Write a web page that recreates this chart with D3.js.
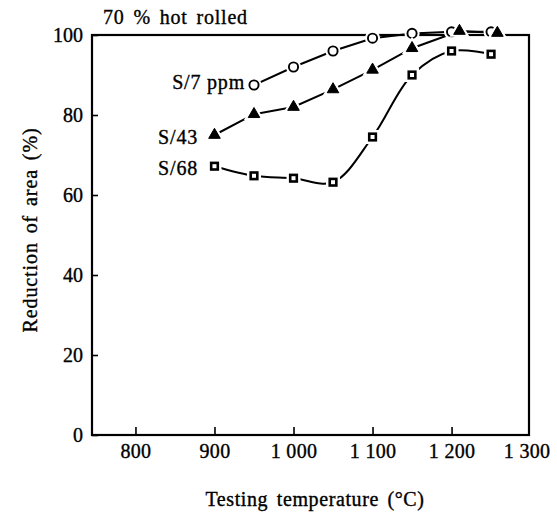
<!DOCTYPE html>
<html>
<head>
<meta charset="utf-8">
<script src="https://cdn.jsdelivr.net/npm/d3@7"></script>
<style>
  html, body { margin: 0; padding: 0; background: #fff; }
  svg { display: block; }
  text { font-family: "Liberation Serif", "DejaVu Serif", serif; fill: #000; stroke: #000; stroke-width: 0.35px; }
</style>
</head>
<body>
<svg id="chart" width="557" height="515"></svg>
<script>
// Reduction of area vs. testing temperature, 70 % hot rolled steel, three sulfur levels
const xTicks = [800, 900, 1000, 1100, 1200, 1300];
const xTickLabels = ["800", "900", "1 000", "1 100", "1 200", "1 300"];
const yTicks = [0, 20, 40, 60, 80, 100];

const s7Temp  = [950, 1000, 1050, 1100, 1150, 1200, 1250];
const s7Value = [87.5, 92, 96, 99.2, 100.4, 100.8, 100.8];

const s43Temp  = [900, 950, 1000, 1050, 1100, 1150, 1210, 1258];
const s43Value = [75, 80.2, 82, 86.4, 91.3, 96.7, 101, 100.5];

const s68Temp  = [900, 950, 1000, 1050, 1100, 1150, 1200, 1250];
const s68Value = [67.2, 64.8, 64.2, 63.2, 74.5, 90, 96, 95.2];

const seriesLabels = ["S/7 ppm", "S/43", "S/68"];

const svg = d3.select("#chart");
const plotL = 92, plotR = 529, plotT = 35, plotB = 435;
const FS = 20;

const x = d3.scaleLinear().domain([745, 1298]).range([plotL, plotR]);
const y = d3.scaleLinear().domain([0, 100]).range([plotB, plotT]);

const zip = (a, b) => a.map((t, i) => [t, b[i]]);
const s7 = zip(s7Temp, s7Value);
const s43 = zip(s43Temp, s43Value);
const s68 = zip(s68Temp, s68Value);

// frame
svg.append("rect")
  .attr("x", plotL).attr("y", plotT)
  .attr("width", plotR - plotL).attr("height", plotB - plotT)
  .attr("fill", "none").attr("stroke", "#000").attr("stroke-width", 2.2);

// bottom axis, ticks pointing inward
const xAxis = svg.append("g")
  .attr("transform", `translate(0,${plotB})`)
  .call(d3.axisBottom(x).tickValues(xTicks)
    .tickFormat((d) => xTickLabels[xTicks.indexOf(d)])
    .tickSizeInner(-8).tickSizeOuter(0).tickPadding(9));
xAxis.select(".domain").remove();
xAxis.selectAll("line").attr("stroke-width", 1.6)
  .filter(d => d > 1298).remove();
xAxis.selectAll("text").attr("font-size", FS).attr("font-family", null)
  .attr("letter-spacing", 0.3)
  .filter(d => d === 1300).attr("dx", -4);

// left axis, ticks pointing inward
const yAxis = svg.append("g")
  .attr("transform", `translate(${plotL},0)`)
  .call(d3.axisLeft(y).tickValues(yTicks)
    .tickSizeInner(-6).tickSizeOuter(0).tickPadding(9));
yAxis.select(".domain").remove();
yAxis.selectAll("line").attr("stroke-width", 1.6);
yAxis.selectAll("text").attr("font-size", FS).attr("font-family", null);
xAxis.attr("font-family", null);
yAxis.attr("font-family", null);

// axis titles
svg.append("text")
  .attr("x", 315).attr("y", 506)
  .attr("text-anchor", "middle").attr("font-size", FS)
  .attr("letter-spacing", 0.6).attr("word-spacing", 3)
  .text("Testing temperature (°C)");
svg.append("text")
  .attr("transform", "translate(37,230) rotate(-90)")
  .attr("text-anchor", "middle").attr("font-size", FS)
  .attr("letter-spacing", 0.9).attr("word-spacing", 3)
  .text("Reduction of area (%)");
svg.append("text")
  .attr("x", 103).attr("y", 24)
  .attr("font-size", FS)
  .attr("letter-spacing", 0.8).attr("word-spacing", 3)
  .text("70 % hot rolled");

// connecting lines
const straight = d3.line().x(d => x(d[0])).y(d => y(d[1]));
const smooth = d3.line().x(d => x(d[0])).y(d => y(d[1])).curve(d3.curveCatmullRom.alpha(0.5));

const g = svg.append("g");
g.append("path").attr("d", straight(s7)).attr("fill", "none").attr("stroke", "#000").attr("stroke-width", 2);
g.append("path").attr("d", straight(s43)).attr("fill", "none").attr("stroke", "#000").attr("stroke-width", 2);
g.append("path").attr("d", smooth(s68)).attr("fill", "none").attr("stroke", "#000").attr("stroke-width", 2);

// markers with a white halo so the lines stop short of each symbol
const tri = d3.symbol().type(d3.symbolTriangle).size(58);

function markers(data, drawFn) {
  const m = svg.append("g");
  data.forEach(d => drawFn(m, x(d[0]), y(d[1])));
}

markers(s7, (m, cx, cy) => {
  m.append("circle").attr("cx", cx).attr("cy", cy).attr("r", 4.6)
    .attr("fill", "#fff").attr("stroke", "#fff").attr("stroke-width", 6);
  m.append("circle").attr("cx", cx).attr("cy", cy).attr("r", 4.6)
    .attr("fill", "#fff").attr("stroke", "#000").attr("stroke-width", 1.9);
});

markers(s43, (m, cx, cy) => {
  m.append("path").attr("d", tri).attr("transform", `translate(${cx},${cy})`)
    .attr("fill", "#fff").attr("stroke", "#fff").attr("stroke-width", 5);
  m.append("path").attr("d", tri).attr("transform", `translate(${cx},${cy})`)
    .attr("fill", "#000").attr("stroke", "#000").attr("stroke-width", 1);
});

markers(s68, (m, cx, cy) => {
  m.append("rect").attr("x", cx - 4).attr("y", cy - 4).attr("width", 8).attr("height", 8)
    .attr("fill", "#fff").attr("stroke", "#fff").attr("stroke-width", 6);
  m.append("rect").attr("x", cx - 3.3).attr("y", cy - 3.3).attr("width", 6.6).attr("height", 6.6)
    .attr("fill", "#fff").attr("stroke", "#000").attr("stroke-width", 2.6);
});

// series labels
const labelPos = [[245, 89], [198, 144], [198, 175]];
labelPos.forEach(([lx, ly], i) => {
  svg.append("text")
    .attr("x", lx).attr("y", ly)
    .attr("text-anchor", "end").attr("font-size", FS)
    .attr("letter-spacing", 0.8)
    .text(seriesLabels[i]);
});
</script>
</body>
</html>
